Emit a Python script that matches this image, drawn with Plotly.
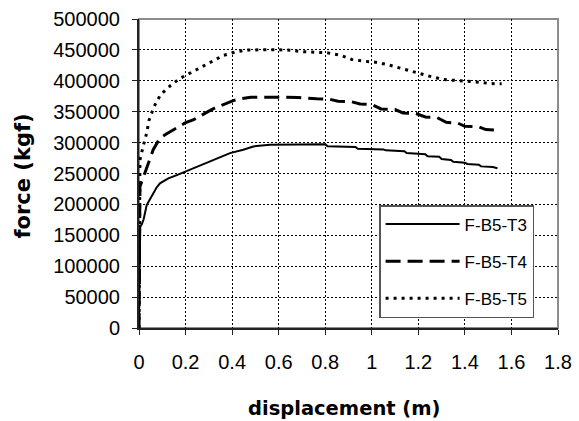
import plotly.graph_objects as go

# ---- data ----
t3_x = [0, 0.003, 0.005, 0.012, 0.02, 0.033, 0.047, 0.06, 0.075, 0.09, 0.11, 0.126, 0.16, 0.198,
        0.23, 0.269, 0.3, 0.334, 0.391, 0.448, 0.491, 0.563, 0.65, 0.75, 0.8, 0.81, 0.93, 0.94,
        1.05, 1.06, 1.14, 1.15, 1.23, 1.24, 1.29, 1.3, 1.34, 1.35, 1.4, 1.41, 1.46, 1.47, 1.52, 1.54]
t3_y = [0, 100000, 164000, 168000, 176000, 199000, 208000, 216000, 227000, 234000, 238000, 242000,
        247000, 253000, 258000, 264000, 269000, 275000, 283000, 288500, 293800, 296600, 297000,
        297500, 297500, 294000, 293000, 290000, 289000, 287500, 286000, 283000, 281000, 278000,
        277000, 273500, 272000, 269000, 267500, 265500, 264000, 261500, 260500, 258500]

t4_x = [0, 0.003, 0.004, 0.015, 0.026, 0.043, 0.061, 0.09, 0.119, 0.169, 0.198, 0.235, 0.269,
        0.3, 0.327, 0.362, 0.405, 0.441, 0.48, 0.6, 0.685, 0.763, 0.82, 0.855, 0.914, 0.95, 1.0,
        1.04, 1.1, 1.134, 1.19, 1.23, 1.28, 1.32, 1.37, 1.4, 1.46, 1.49, 1.55]
t4_y = [0, 150000, 229000, 240000, 250600, 269500, 288500, 307500, 314400, 325300, 331800, 337000,
        345000, 351000, 356200, 361500, 368000, 371300, 373400, 373400, 373000, 370800, 370000,
        366900, 366000, 362600, 361500, 354500, 353500, 348000, 347000, 341500, 340500, 332800,
        331500, 326300, 325500, 321000, 320000]

t5_x = [0, 0.003, 0.004, 0.018, 0.033, 0.043, 0.064, 0.093, 0.136, 0.173, 0.226, 0.276, 0.312,
        0.362, 0.412, 0.462, 0.563, 0.65, 0.706, 0.763, 0.806, 0.864, 0.914, 0.964, 1.014, 1.064,
        1.114, 1.164, 1.214, 1.257, 1.307, 1.357, 1.407, 1.464, 1.507, 1.558]
t5_y = [0, 150000, 272000, 294000, 315600, 336000, 357800, 377800, 392400, 403200, 414000, 423700,
        431800, 441000, 446400, 449700, 450500, 449500, 447000, 446500, 445400, 441600, 434600,
        431800, 430200, 426500, 421100, 415600, 410200, 406500, 402100, 401000, 399400, 397700,
        395600, 395100]

series_names = ["F-B5-T3", "F-B5-T4", "F-B5-T5"]
x_ticks = [0, 0.2, 0.4, 0.6, 0.8, 1, 1.2, 1.4, 1.6, 1.8]
x_tick_labels = ["0", "0.2", "0.4", "0.6", "0.8", "1", "1.2", "1.4", "1.6", "1.8"]
y_ticks = [0, 50000, 100000, 150000, 200000, 250000, 300000, 350000, 400000, 450000, 500000]
y_tick_labels = [str(v) for v in y_ticks]

FONT = "Liberation Sans"

fig = go.Figure()
fig.add_trace(go.Scatter(x=t3_x, y=t3_y, mode="lines", name=series_names[0], legendgroup="a",
                         line=dict(color="black", width=2)))
fig.add_trace(go.Scatter(x=t4_x, y=t4_y, mode="lines", name=series_names[1], legendgroup="b",
                         line=dict(color="black", width=3, dash="15px,7px")))
fig.add_trace(go.Scatter(x=t5_x, y=t5_y, mode="lines", name=series_names[2], legendgroup="c",
                         line=dict(color="black", width=3, dash="3px,5px")))

fig.update_layout(
    width=579, height=421,
    margin=dict(l=139, r=21, t=19, b=93, autoexpand=False),
    paper_bgcolor="white", plot_bgcolor="white",
    font=dict(family=FONT, color="black"),
    showlegend=True,
    legend=dict(x=0.573, y=0.398, xanchor="left", yanchor="top",
                bgcolor="white", bordercolor="#555", borderwidth=1.5,
                font=dict(family=FONT, size=17, color="black"),
                itemwidth=74, tracegroupgap=12, traceorder="grouped"),
    shapes=[dict(type="rect", xref="paper", yref="paper", x0=0, x1=1, y0=0, y1=1,
                 line=dict(color="#8c8c8c", width=2), layer="below")],
    annotations=[
        dict(text="<b>displacement (m)</b>", xref="paper", yref="paper", x=0.49, y=0,
             xanchor="center", yanchor="middle", yshift=-80, showarrow=False,
             font=dict(family="DejaVu Sans", size=19.5, color="black")),
        dict(text="<b>force (kgf)</b>", xref="paper", yref="paper", x=0, y=0.49,
             xanchor="center", yanchor="middle", xshift=-116, textangle=-90, showarrow=False,
             font=dict(family="DejaVu Sans", size=21, color="black")),
    ],
)

fig.update_xaxes(range=[0, 1.8], tickmode="array", tickvals=x_ticks, ticktext=x_tick_labels,
                 showgrid=True, gridcolor="black", gridwidth=1, griddash="2px,2px",
                 zeroline=False, showline=True, linecolor="#222", linewidth=2,
                 ticks="outside", ticklen=5, tickcolor="#222", tickwidth=1,
                 ticklabelstandoff=10,
                 tickfont=dict(family=FONT, size=20, color="black"))
fig.update_yaxes(range=[0, 500000], tickmode="array", tickvals=y_ticks, ticktext=y_tick_labels,
                 showgrid=True, gridcolor="black", gridwidth=1, griddash="2px,2px",
                 zeroline=False, showline=True, linecolor="#222", linewidth=2,
                 ticks="outside", ticklen=5, tickcolor="#222", tickwidth=1,
                 ticklabelstandoff=8,
                 tickfont=dict(family=FONT, size=20, color="black"))

fig.write_html("out.html")
